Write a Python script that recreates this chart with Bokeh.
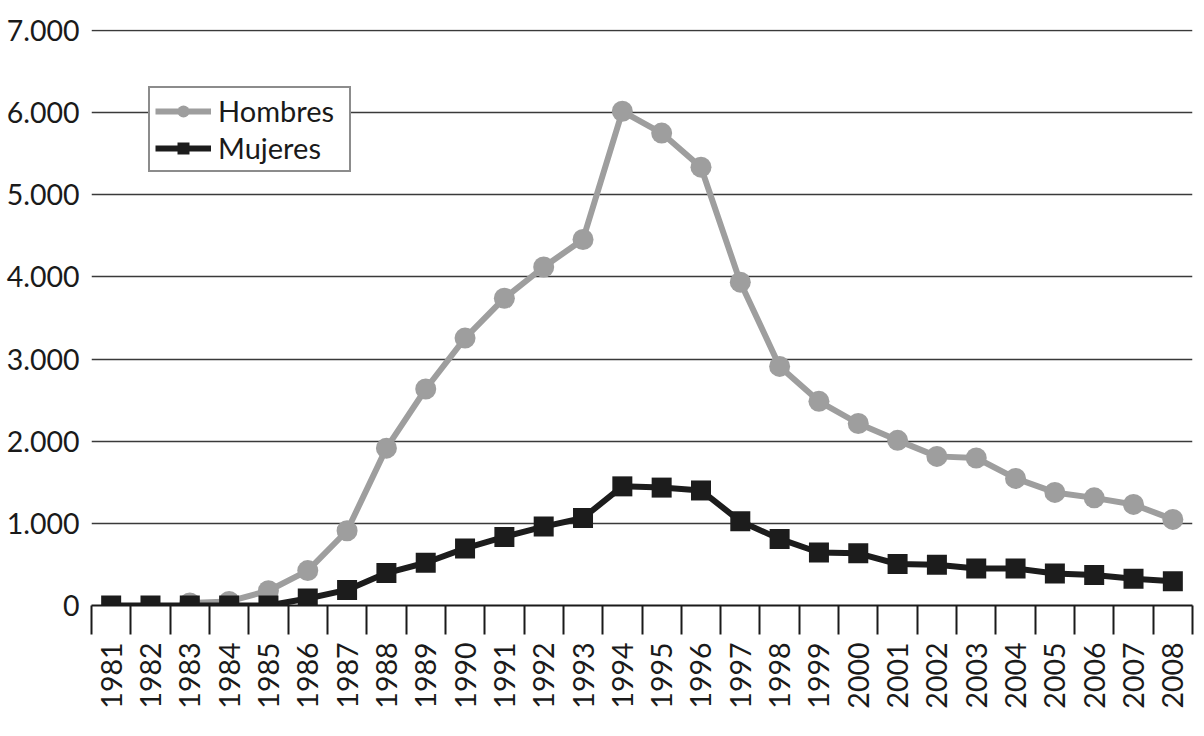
import math
from bokeh.plotting import figure
from bokeh.models import Range1d, FixedTicker
from bokeh.embed import file_html
from bokeh.resources import INLINE

nan = float("nan")

years = list(range(1981, 2009))
hombres = [nan, nan, 30, 50, 180, 425, 910, 1915, 2635, 3255, 3740, 4120, 4455,
           6015, 5750, 5335, 3935, 2910, 2485, 2215, 2010, 1815, 1795, 1547,
           1376, 1310, 1230, 1048]
mujeres = [0, 0, 0, 0, 0, 85, 190, 395, 520, 695, 835, 960, 1065,
           1450, 1435, 1400, 1025, 810, 645, 635, 505, 495, 450, 450,
           390, 370, 325, 295]
y_ticks = [0, 1000, 2000, 3000, 4000, 5000, 6000, 7000]
y_tick_labels = ["0", "1.000", "2.000", "3.000", "4.000", "5.000", "6.000", "7.000"]

FONT = "Lato"
GRAY = "#9e9e9e"
BLACK = "#1c1c1c"

p = figure(width=1196, height=720, output_backend="svg", toolbar_location=None,
           x_range=Range1d(years[0] - 0.5, years[-1] + 0.5),
           y_range=Range1d(y_ticks[0], y_ticks[-1] * 1.0015),
           min_border_left=91, min_border_right=4, min_border_top=29,
           min_border_bottom=115)
p.outline_line_color = None
p.background_fill_color = "white"

# grid
p.xgrid.grid_line_color = None
p.ygrid.ticker = FixedTicker(ticks=y_ticks)
p.ygrid.grid_line_color = "#3a3a3a"
p.ygrid.grid_line_width = 1.3

# y axis
p.yaxis.ticker = FixedTicker(ticks=y_ticks)
p.yaxis.major_label_overrides = {t: l for t, l in zip(y_ticks, y_tick_labels)}
p.yaxis.axis_line_color = None
p.yaxis.major_tick_line_color = None
p.yaxis.minor_tick_line_color = None
p.yaxis.major_label_standoff = 6
p.yaxis.major_label_text_font = FONT
p.yaxis.major_label_text_font_size = "28.5px"
p.yaxis.major_label_text_color = "#1a1a1a"

# x axis: labels at centers, ticks at category boundaries
bounds = [y - 0.5 for y in years] + [years[-1] + 0.5]
p.xaxis.ticker = FixedTicker(ticks=years, minor_ticks=bounds)
p.xaxis.major_tick_line_color = None
p.xaxis.major_tick_out = 0
p.xaxis.major_tick_in = 0
p.xaxis.minor_tick_out = 29
p.xaxis.minor_tick_in = 0
p.xaxis.minor_tick_line_color = "#1a1a1a"
p.xaxis.minor_tick_line_width = 2
p.xaxis.axis_line_color = "#1a1a1a"
p.xaxis.axis_line_width = 2
p.xaxis.major_label_orientation = math.pi / 2
p.xaxis.major_label_standoff = 8
p.xaxis.major_label_text_font = FONT
p.xaxis.major_label_text_font_size = "28.5px"
p.xaxis.major_label_text_color = "#1a1a1a"
p.xaxis.major_label_overrides = {y: str(y) for y in years}

# series
p.line(years, hombres, line_color=GRAY, line_width=6, legend_label="Hombres")
p.scatter(years, hombres, marker="circle", size=21, fill_color=GRAY,
          line_color=None, legend_label="Hombres")
p.line(years, mujeres, line_color=BLACK, line_width=6, legend_label="Mujeres")
p.scatter(years, mujeres, marker="square", size=20, fill_color=BLACK,
          line_color=None, legend_label="Mujeres")

lg = p.legend[0]
lg.location = (57, 433)
lg.border_line_color = "#1a1a1a"
lg.border_line_width = 2
lg.background_fill_alpha = 1
lg.background_fill_color = "white"
lg.padding = 5
lg.margin = 0
lg.spacing = 2
lg.glyph_width = 56
lg.glyph_height = 30
lg.label_standoff = 7
lg.label_width = 126
lg.label_text_font = FONT
lg.label_text_font_size = "29px"
lg.label_text_color = "#1a1a1a"
lg.label_height = 30

open("out.html", "w").write(file_html(p, INLINE))
